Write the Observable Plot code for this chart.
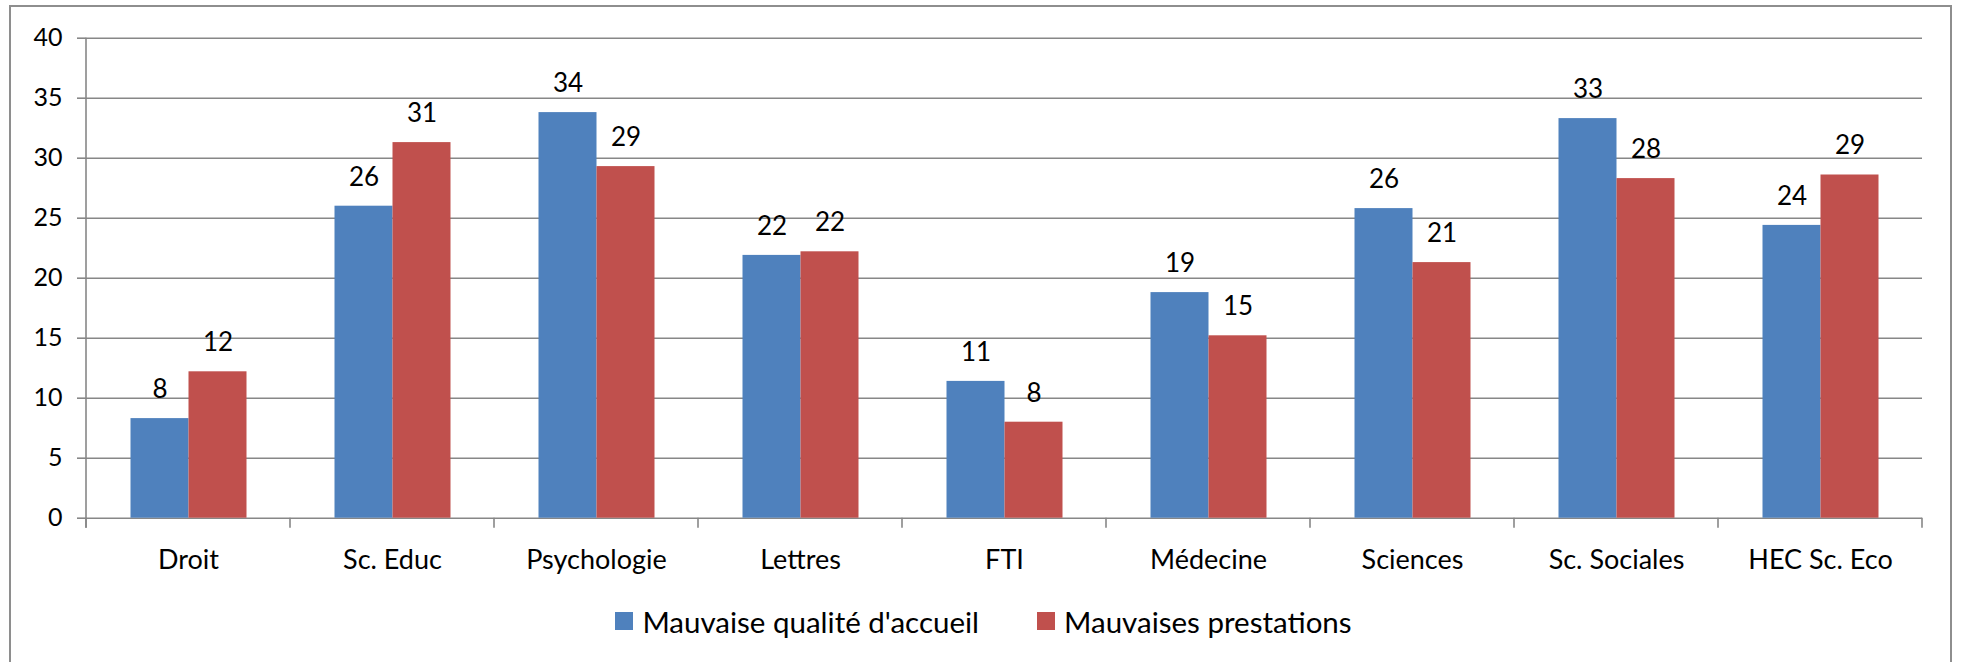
<!DOCTYPE html>
<html>
<head>
<meta charset="utf-8">
<script src="https://cdn.jsdelivr.net/npm/d3@7"></script>
<script src="https://cdn.jsdelivr.net/npm/@observablehq/plot@0.6"></script>
<style>
  html, body { margin: 0; padding: 0; background: #fff; }
  body { width: 1961px; height: 662px; overflow: hidden; position: relative; font-family: Lato, sans-serif; }
  #frame { position: absolute; left: 9px; top: 5px; width: 1943px; height: 720px; border: 2px solid #8e8e8e; box-sizing: border-box; }
  #chart { position: absolute; left: 0; top: 0; }
  #legend { position: absolute; left: 0; top: 600px; width: 1961px; height: 42px; display: flex; justify-content: center; align-items: center; font-size: 29.5px; color: #000; padding-left: 6px; box-sizing: border-box; }
  #legend .item { display: flex; align-items: center; margin: 0 29px; }
  #legend .sw { display: inline-block; width: 18px; height: 18px; margin-right: 9px; }
</style>
</head>
<body>
<div id="frame"></div>
<div id="chart"></div>
<div id="legend"></div>
<script>
const categories = ["Droit", "Sc. Educ", "Psychologie", "Lettres", "FTI", "Médecine", "Sciences", "Sc. Sociales", "HEC Sc. Eco"];
const series = ["Mauvaise qualité d'accueil", "Mauvaises prestations"];
const accueil = [8.3, 26.0, 33.8, 21.9, 11.4, 18.8, 25.8, 33.3, 24.4];
const prestations = [12.2, 31.3, 29.3, 22.2, 8.0, 15.2, 21.3, 28.3, 28.6];
const yTicks = [0, 5, 10, 15, 20, 25, 30, 35, 40];
const colors = ["#4F81BD", "#C0504D"];

const data = [];
categories.forEach((c, i) => {
  data.push({category: c, series: series[0], value: accueil[i]});
  data.push({category: c, series: series[1], value: prestations[i]});
});

const gray = "#878787";
const W = 1961, H = 600;

const plot = Plot.plot({
  width: W,
  height: H,
  marginLeft: 84.5,
  marginRight: W - 1922.5,
  marginTop: 37.7,
  marginBottom: H - 517.7,
  style: {fontFamily: "Lato, sans-serif", background: "transparent", color: "#000"},
  fx: {domain: categories, padding: 0, label: null},
  x: {domain: series, paddingInner: 0, paddingOuter: 0.75, axis: null},
  y: {domain: [0, 40], nice: false, label: null},
  color: {domain: series, range: colors},
  marks: [
    Plot.gridY(yTicks, {stroke: gray, strokeOpacity: 1, strokeWidth: 1.6}),
    Plot.barY(data, {fx: "category", x: "series", y: "value", fill: "series", inset: 0}),
    Plot.text(data, {fx: "category", x: "series", y: "value", text: d => String(Math.round(d.value)), dy: -29, lineAnchor: "middle", fontSize: 26, fill: "#000"}),
    Plot.axisY(yTicks, {tickSize: 9, tickPadding: 15, fontSize: 25, stroke: gray, strokeWidth: 1.6, fill: "#000", label: null}),
    Plot.axisFx({anchor: "bottom", tickSize: 0, tickPadding: 32, fontSize: 27, fill: "#000", label: null})
  ]
});

document.getElementById("chart").appendChild(plot);

// axis line and category boundary ticks, positioned from Plot's own scales
const fx = plot.scale("fx");
const y = plot.scale("y");
const svg = d3.select(plot);
const g = svg.append("g").attr("stroke", gray).attr("stroke-width", 1.6).attr("fill", "none");
const y0 = y.apply(0);
const yTop = y.apply(40);
const xLeft = fx.apply(categories[0]);
g.append("line").attr("x1", xLeft).attr("x2", xLeft).attr("y1", yTop).attr("y2", y0 + 10);
const edges = categories.map(c => fx.apply(c)).concat([fx.apply(categories[categories.length - 1]) + fx.bandwidth]);
edges.forEach(xe => {
  g.append("line").attr("x1", xe).attr("x2", xe).attr("y1", y0).attr("y2", y0 + 10);
});

// legend
const legend = document.getElementById("legend");
series.forEach((s, i) => {
  const item = document.createElement("span");
  item.className = "item";
  const sw = document.createElement("span");
  sw.className = "sw";
  sw.style.background = colors[i];
  item.appendChild(sw);
  item.appendChild(document.createTextNode(s));
  legend.appendChild(item);
});
</script>
</body>
</html>
